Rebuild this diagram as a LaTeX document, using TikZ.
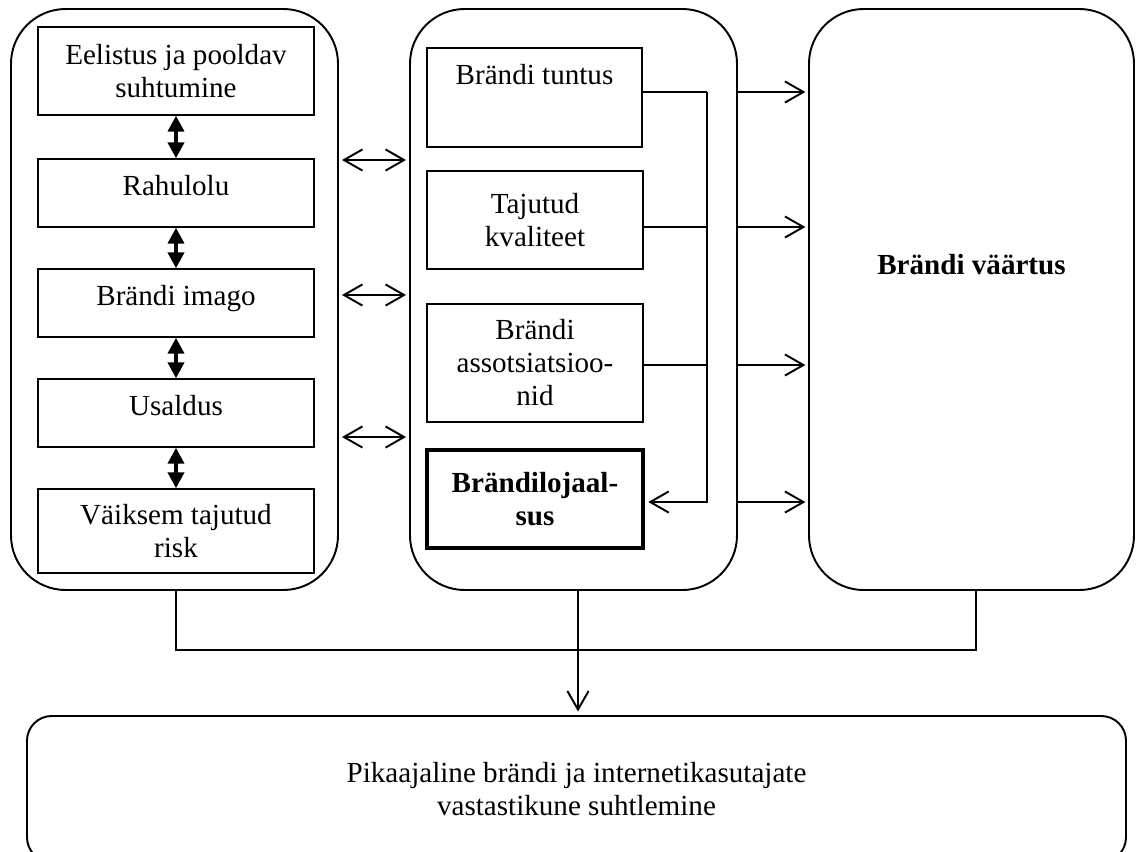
\documentclass[tikz,border=0pt]{standalone}
\usepackage{fontspec}
\setmainfont{Liberation Serif}
\usetikzlibrary{arrows.meta}
\newcommand{\pxu}{0.567pt}
\begin{document}
\begin{tikzpicture}[x=0.567pt,y=-0.567pt,
  every node/.style={font=\fontsize{16.5pt}{18.7pt}\selectfont},
  outerbox/.style={draw, line width=1.1pt, rounded corners=31pt, inner sep=0pt, align=center},
  lowerbox/.style={draw, line width=1.1pt, rounded corners=14pt, inner sep=0pt, align=center},
  innerbox/.style={draw, line width=0.8pt, align=center, inner sep=2pt},
  keybox/.style={innerbox, line width=2pt, font=\fontsize{16.5pt}{18.7pt}\selectfont\bfseries},
  oneline/.style={text height=10pt, text depth=7.7pt},
  conn/.style={line width=1.1pt},
  barb/.tip={Straight Barb[length=10.5pt,width=12pt]},
  openarrow/.style={conn, -barb},
  twoway/.style={conn, barb-barb, shorten <=1.7pt, shorten >=1.7pt},
  boldlink/.style={line width=2.2pt, {Triangle[length=9pt,width=9pt]}-{Triangle[length=9pt,width=9pt]}}
]
\useasboundingbox (0,0) rectangle (1136,851);
\clip (0,0) rectangle (1136,851);

% three columns
\node[outerbox, minimum width=327*\pxu, minimum height=581*\pxu] (L) at (174.5,299.5) {};
\node[outerbox, minimum width=327*\pxu, minimum height=581*\pxu] (M) at (573.5,299.5) {};
\node[outerbox, minimum width=325*\pxu, minimum height=581*\pxu,
      font=\fontsize{16.5pt}{18.7pt}\selectfont\bfseries,
      text height=10pt, text depth=37.8pt] (R) at (971.5,299.5) {Brändi väärtus};

% bottom box
\node[lowerbox, minimum width=1099*\pxu, minimum height=146*\pxu] (B) at (576.5,789)
  {Pikaajaline brändi ja internetikasutajate\\vastastikune suhtlemine};

% left column
\node[innerbox, minimum width=276*\pxu, minimum height=88*\pxu] (l1) at (176,71)
  {Eelistus ja pooldav\\suhtumine};
\node[innerbox, oneline, minimum width=276*\pxu, minimum height=68*\pxu] (l2) at (176,193) {Rahulolu};
\node[innerbox, oneline, minimum width=276*\pxu, minimum height=68*\pxu] (l3) at (176,303) {Brändi imago};
\node[innerbox, oneline, minimum width=276*\pxu, minimum height=68*\pxu] (l4) at (176,413) {Usaldus};
\node[innerbox, minimum width=276*\pxu, minimum height=84*\pxu] (l5) at (176,531)
  {Väiksem tajutud\\risk};

\draw[boldlink] (l1.south) -- (l2.north);
\draw[boldlink] (l2.south) -- (l3.north);
\draw[boldlink] (l3.south) -- (l4.north);
\draw[boldlink] (l4.south) -- (l5.north);

% middle column
\node[innerbox, minimum width=215*\pxu, minimum height=99*\pxu,
      text height=10pt, text depth=24.2pt] (m1) at (534.5,97.5) {Brändi tuntus};
\node[innerbox, minimum width=216*\pxu, minimum height=98*\pxu] (m2) at (535,220)
  {Tajutud\\kvaliteet};
\node[innerbox, minimum width=216*\pxu, minimum height=118*\pxu] (m3) at (535,363)
  {Brändi\\assotsiatsioo-\\nid};
\node[keybox, minimum width=216*\pxu, minimum height=98*\pxu] (m4) at (535,499)
  {Brändilojaal-\\sus};

% collecting line of the middle column
\coordinate (b1) at (707,92);
\coordinate (b2) at (707,227);
\coordinate (b3) at (707,365);
\coordinate (b4) at (707,502);
\draw[conn] (m1.east |- b1) -- (b1);
\draw[conn] (m2.east |- b2) -- (b2);
\draw[conn] (m3.east |- b3) -- (b3);
\draw[openarrow, shorten >=2pt] (b1) -- (b4) -- (m4.east |- b4);

% links between the columns
\draw[twoway] (L.east |- 0,160) -- (M.west |- 0,160);
\draw[twoway] (L.east |- 0,295) -- (M.west |- 0,295);
\draw[twoway] (L.east |- 0,437) -- (M.west |- 0,437);

\draw[openarrow, shorten >=1.5pt] (M.east |- b1) -- (R.west |- b1);
\draw[openarrow, shorten >=1.5pt] (M.east |- b2) -- (R.west |- b2);
\draw[openarrow, shorten >=1.5pt] (M.east |- b3) -- (R.west |- b3);
\draw[openarrow, shorten >=1.5pt] (M.east |- b4) -- (R.west |- b4);

% joint line to the bottom box
\coordinate (j1) at (176,650);
\coordinate (j2) at (578,650);
\coordinate (j3) at (976,650);
\draw[conn] (j1 |- L.south) -- (j1) -- (j3) -- (j3 |- R.south);
\draw[openarrow, shorten >=2pt] (j2 |- M.south) -- (j2 |- B.north);
\end{tikzpicture}
\end{document}
